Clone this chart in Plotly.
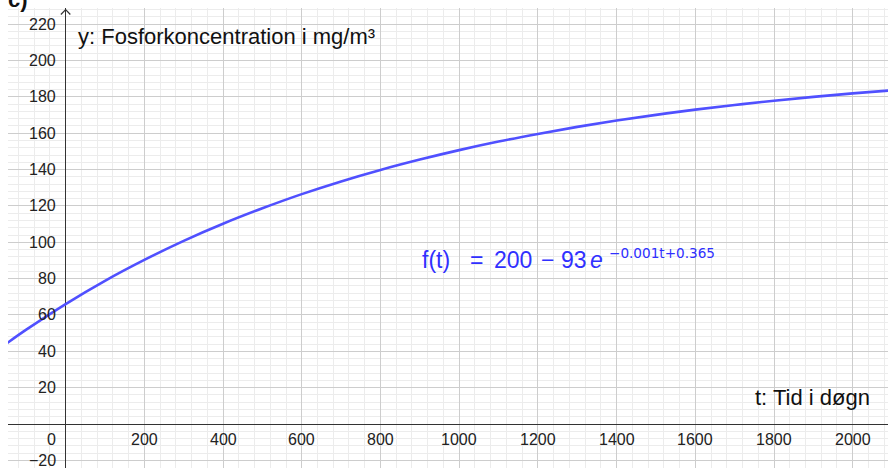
import plotly.graph_objects as go

# --- data ---
t_values = [-150, -100, 0, 100, 200, 300, 400, 500, 600, 700, 800, 900, 1000,
            1100, 1200, 1300, 1400, 1500, 1600, 1700, 1800, 1900, 2000, 2100]
f_values = [44.3, 51.9, 66.0, 78.8, 90.3, 100.8, 110.2, 118.7, 126.5, 133.5,
            139.8, 145.5, 150.7, 155.4, 159.6, 163.5, 167.0, 170.1, 173.0,
            175.5, 177.9, 180.0, 181.9, 183.6]
x_tick_labels = [200, 400, 600, 800, 1000, 1200, 1400, 1600, 1800, 2000]
y_tick_labels = [-20, 20, 40, 60, 80, 100, 120, 140, 160, 180, 200, 220]

y_title = "y: Fosforkoncentration i mg/m³"
x_title = "t: Tid i døgn"
formula_parts = ["f(t)", "=", "200", "−", "93", "<i>e</i>"]
formula_sup = "−0.001t+0.365"

X_RANGE = [-146.4, 2089.6]
Y_RANGE = [-24.2, 228.9]
W, H = 888, 468
ML, MT = 8, 8
PLOT_W, PLOT_H = W - ML, H - MT


def px_to_x(px):
    return X_RANGE[0] + (px - ML) / PLOT_W * (X_RANGE[1] - X_RANGE[0])


def py_to_y(py):
    return Y_RANGE[1] - (py - MT) / PLOT_H * (Y_RANGE[1] - Y_RANGE[0])


fig = go.Figure()
fig.add_trace(go.Scatter(
    x=t_values, y=f_values, mode="lines",
    line=dict(color="#5050ff", width=2.6, shape="spline", smoothing=1.0),
    hoverinfo="skip", showlegend=False,
))

tick_font = dict(family="Liberation Sans, Arial, sans-serif", size=16, color="#222222")
annotations = []
for v in x_tick_labels:
    annotations.append(dict(x=v, y=0, xref="x", yref="y", text=str(v), showarrow=False,
                            xanchor="center", yanchor="middle", yshift=-15, font=tick_font))
for v in y_tick_labels:
    annotations.append(dict(x=0, y=v, xref="x", yref="y", text=str(v).replace("-", "−"),
                            showarrow=False, xanchor="right", yanchor="middle",
                            xshift=-8, font=tick_font))
annotations.append(dict(x=0, y=0, xref="x", yref="y", text="0", showarrow=False,
                        xanchor="right", yanchor="middle", xshift=-8, yshift=-15,
                        font=tick_font))

title_font = dict(family="Liberation Sans, Arial, sans-serif", size=22, color="#111111")
annotations.append(dict(x=px_to_x(76), y=py_to_y(36), xref="x", yref="y", text=y_title,
                        showarrow=False, xanchor="left", yanchor="middle", font=title_font))
annotations.append(dict(x=px_to_x(872), y=py_to_y(397), xref="x", yref="y", text=x_title,
                        showarrow=False, xanchor="right", yanchor="middle", font=title_font))

blue = "#3030ff"
part_center_px = [436, 476, 512.5, 547.5, 574, 596.5]
for txt, px in zip(formula_parts, part_center_px):
    annotations.append(dict(x=px_to_x(px), y=py_to_y(260), xref="x", yref="y", text=txt,
                            showarrow=False, xanchor="center", yanchor="middle",
                            font=dict(family="Liberation Sans, Arial, sans-serif",
                                      size=23, color=blue)))
annotations.append(dict(x=px_to_x(607), y=py_to_y(253), xref="x", yref="y", text=formula_sup,
                        showarrow=False, xanchor="left", yanchor="middle",
                        font=dict(family="DejaVu Sans, sans-serif", size=13.6, color=blue)))

annotations.append(dict(x=0, y=1, xref="paper", yref="paper", text="<b>c)</b>", showarrow=False,
                        xanchor="left", yanchor="bottom", xshift=-2, yshift=-6,
                        font=dict(family="Liberation Sans, Arial, sans-serif", size=22, color="#111111")))

# y-axis arrow head
shapes = [
    dict(type="line", xref="x", yref="y", x0=-12, y0=225.3, x1=0, y1=228.0,
         line=dict(color="#333333", width=1.2)),
    dict(type="line", xref="x", yref="y", x0=12, y0=225.3, x1=0, y1=228.0,
         line=dict(color="#333333", width=1.2)),
]

fig.update_layout(
    width=W, height=H,
    margin=dict(l=ML, r=0, t=MT, b=0),
    paper_bgcolor="white", plot_bgcolor="white",
    annotations=annotations, shapes=shapes,
    xaxis=dict(range=X_RANGE, showticklabels=False, ticks="", tick0=0, dtick=200,
               showgrid=True, gridcolor="#cdcdcd", gridwidth=1,
               minor=dict(dtick=40, showgrid=True, gridcolor="#ececec", gridwidth=1),
               zeroline=True, zerolinecolor="#333333", zerolinewidth=1.2,
               showline=False, fixedrange=True),
    yaxis=dict(range=Y_RANGE, showticklabels=False, ticks="", tick0=0, dtick=20,
               showgrid=True, gridcolor="#cdcdcd", gridwidth=1,
               minor=dict(dtick=4, showgrid=True, gridcolor="#ececec", gridwidth=1),
               zeroline=True, zerolinecolor="#333333", zerolinewidth=1.2,
               showline=False, fixedrange=True),
)

fig.write_html("out.html", config={"displayModeBar": False},
               post_script="document.body.style.margin='0px';")
